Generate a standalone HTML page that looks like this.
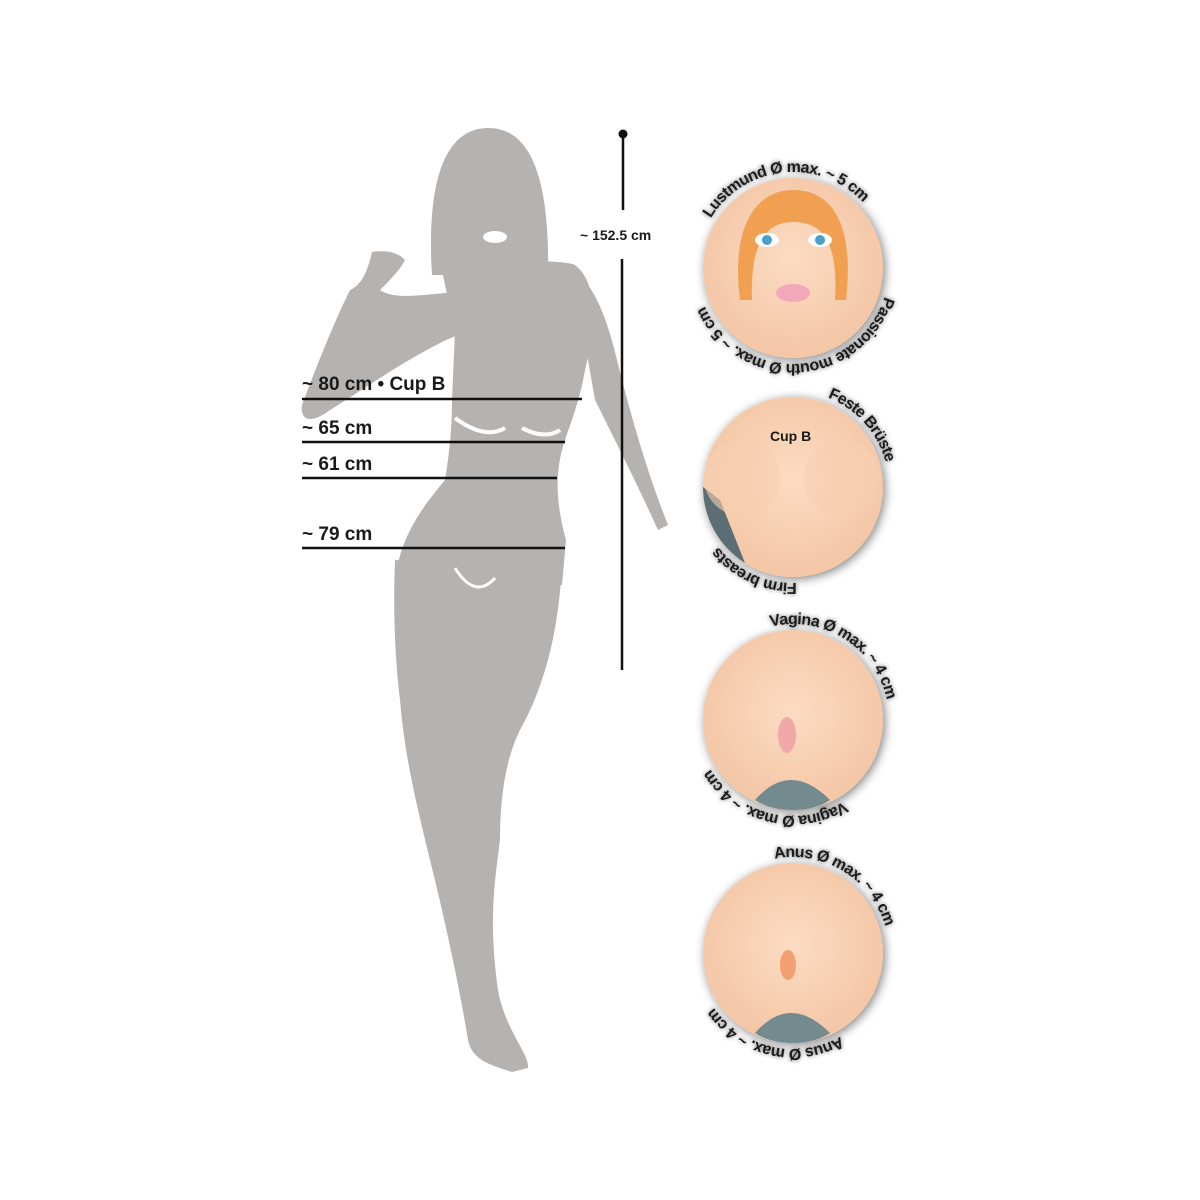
<!DOCTYPE html>
<html><head><meta charset="utf-8"><style>
html,body{margin:0;padding:0;background:#fff;}
svg{display:block}
.lbl{font-family:"Liberation Sans",sans-serif;font-weight:bold;fill:#1a1a1a;}
.arc{font-family:"Liberation Sans",sans-serif;font-weight:bold;font-size:16px;letter-spacing:-0.6px;fill:#1a1a1a;}
</style></head><body>
<svg width="1200" height="1200" viewBox="0 0 1200 1200" xmlns="http://www.w3.org/2000/svg">
<defs>
<radialGradient id="skin" cx="50%" cy="45%" r="60%">
<stop offset="0" stop-color="#fbdcc3"/><stop offset="1" stop-color="#f3c4a2"/></radialGradient>
<filter id="sh" x="-30%" y="-30%" width="160%" height="160%">
<feGaussianBlur in="SourceAlpha" stdDeviation="5"/><feOffset dx="2" dy="2"/>
<feComponentTransfer><feFuncA type="linear" slope="0.5"/></feComponentTransfer>
<feMerge><feMergeNode/><feMergeNode in="SourceGraphic"/></feMerge></filter>
<filter id="tg" x="-10%" y="-10%" width="120%" height="120%">
<feGaussianBlur in="SourceAlpha" stdDeviation="2.5"/>
<feComponentTransfer><feFuncA type="linear" slope="0.6"/></feComponentTransfer>
<feMerge><feMergeNode/><feMergeNode in="SourceGraphic"/></feMerge></filter>
<path id="c1" d="M697,268 A96,96 0 1 1 889,268 A96,96 0 1 1 697,268"/>
<path id="c2" d="M697,487 A96,96 0 1 1 889,487 A96,96 0 1 1 697,487"/>
<path id="c3" d="M697,720 A96,96 0 1 1 889,720 A96,96 0 1 1 697,720"/>
<path id="c4" d="M697,953 A96,96 0 1 1 889,953 A96,96 0 1 1 697,953"/>
</defs>

<!-- silhouette -->
<g fill="#b5b2b0">
<path d="M432,275 C425,160 455,128 488,128 C525,128 550,165 548,275 Z"/>
<path d="M440,262 C470,262 560,258 575,265 C600,285 595,330 585,370 C580,400 570,425 565,440 C555,470 555,500 566,540 L562,585 L395,585 C398,540 420,510 445,480 C450,450 452,425 452,400 L455,330 Z"/>
<path d="M302,405 C300,420 310,425 330,410 C370,385 420,350 458,335 L455,292 C420,295 395,300 380,290 C390,280 400,270 405,260 C398,252 385,250 372,252 C368,270 362,285 350,290 C335,320 315,370 302,405 Z"/>
<path d="M572,268 C600,290 610,330 622,380 C635,430 650,480 668,525 L658,530 C640,490 615,440 595,400 Z"/>
<path d="M395,560 L562,560 C560,620 548,680 520,730 C505,760 500,800 500,840 C495,880 488,920 498,990 C505,1030 530,1055 528,1068 L512,1072 C490,1065 472,1060 468,1040 C460,990 445,920 430,860 C418,810 405,760 400,700 C395,660 393,610 395,560 Z"/>
</g>
<ellipse cx="495" cy="237" rx="12" ry="6" fill="#fff"/>
<path d="M455,418 Q485,440 505,428" stroke="#fff" stroke-width="4" fill="none"/>
<path d="M522,428 Q545,440 560,430" stroke="#fff" stroke-width="4" fill="none"/>
<path d="M455,568 Q475,600 495,578" stroke="#fff" stroke-width="3" fill="none"/>

<!-- measurement lines -->
<g stroke="#111" stroke-width="2.5">
<line x1="302" y1="399" x2="582" y2="399"/>
<line x1="302" y1="442" x2="565" y2="442"/>
<line x1="302" y1="478" x2="557" y2="478"/>
<line x1="302" y1="548" x2="565" y2="548"/>
<line x1="623" y1="133" x2="623" y2="210"/>
<line x1="622" y1="259" x2="622" y2="670"/>
</g>
<circle cx="623" cy="134" r="4.5" fill="#111"/>
<text class="lbl" x="580" y="240" font-size="14">~ 152.5 cm</text>
<text class="lbl" x="302" y="390" font-size="19">~ 80 cm • Cup B</text>
<text class="lbl" x="302" y="434" font-size="19">~ 65 cm</text>
<text class="lbl" x="302" y="470" font-size="19">~ 61 cm</text>
<text class="lbl" x="302" y="540" font-size="19">~ 79 cm</text>

<!-- circles -->
<g filter="url(#sh)">
<circle cx="793" cy="268" r="90" fill="url(#skin)"/>
<circle cx="793" cy="487" r="90" fill="url(#skin)"/>
<circle cx="793" cy="720" r="90" fill="url(#skin)"/>
<circle cx="793" cy="953" r="90" fill="url(#skin)"/>
</g>
<!-- face -->
<path d="M740,300 C730,220 760,190 793,190 C830,190 855,220 846,300 L835,300 C838,245 825,222 793,222 C765,222 750,245 752,300 Z" fill="#f0a050"/>
<ellipse cx="767" cy="240" rx="12" ry="7" fill="#fff"/><circle cx="767" cy="240" r="5" fill="#4aa0c8"/>
<ellipse cx="820" cy="240" rx="12" ry="7" fill="#fff"/><circle cx="820" cy="240" r="5" fill="#4aa0c8"/>
<ellipse cx="793" cy="293" rx="17" ry="9" fill="#f2a8b8"/>
<!-- breasts circle -->
<path d="M703,487 A90,90 0 0 0 745,563 L720,500 Z" fill="#5b6e74"/>
<circle cx="742" cy="478" r="38" fill="#f6cfb0" opacity="0.6"/>
<circle cx="842" cy="478" r="38" fill="#f6cfb0" opacity="0.6"/>
<text class="lbl" x="770" y="441" font-size="14">Cup B</text>
<!-- lower circles -->
<path d="M755,800 Q790,760 830,800 Q815,810 793,810 Q770,810 755,800 Z" fill="#738a8e"/>
<ellipse cx="787" cy="735" rx="9" ry="18" fill="#f0a8a8"/>
<path d="M755,1033 Q790,993 830,1033 Q815,1043 793,1043 Q770,1043 755,1033 Z" fill="#738a8e"/>
<ellipse cx="788" cy="965" rx="8" ry="15" fill="#f2a070"/>

<!-- arc labels -->
<g class="arc" filter="url(#tg)">
<text><textPath href="#c1" startOffset="52">Lustmund Ø max. ~ 5 cm</textPath></text>
<text><textPath href="#c1" startOffset="330">Passionate mouth Ø max. ~ 5 cm</textPath></text>
<text><textPath href="#c2" startOffset="186">Feste Brüste</textPath></text>
<text><textPath href="#c2" startOffset="448">Firm breasts</textPath></text>
<text><textPath href="#c3" startOffset="128">Vagina Ø max. ~ 4 cm</textPath></text>
<text><textPath href="#c3" startOffset="398">Vagina Ø max. ~ 4 cm</textPath></text>
<text><textPath href="#c4" startOffset="132">Anus Ø max. ~ 4 cm</textPath></text>
<text><textPath href="#c4" startOffset="402">Anus Ø max. ~ 4 cm</textPath></text>
</g>
</svg>
</body></html>
